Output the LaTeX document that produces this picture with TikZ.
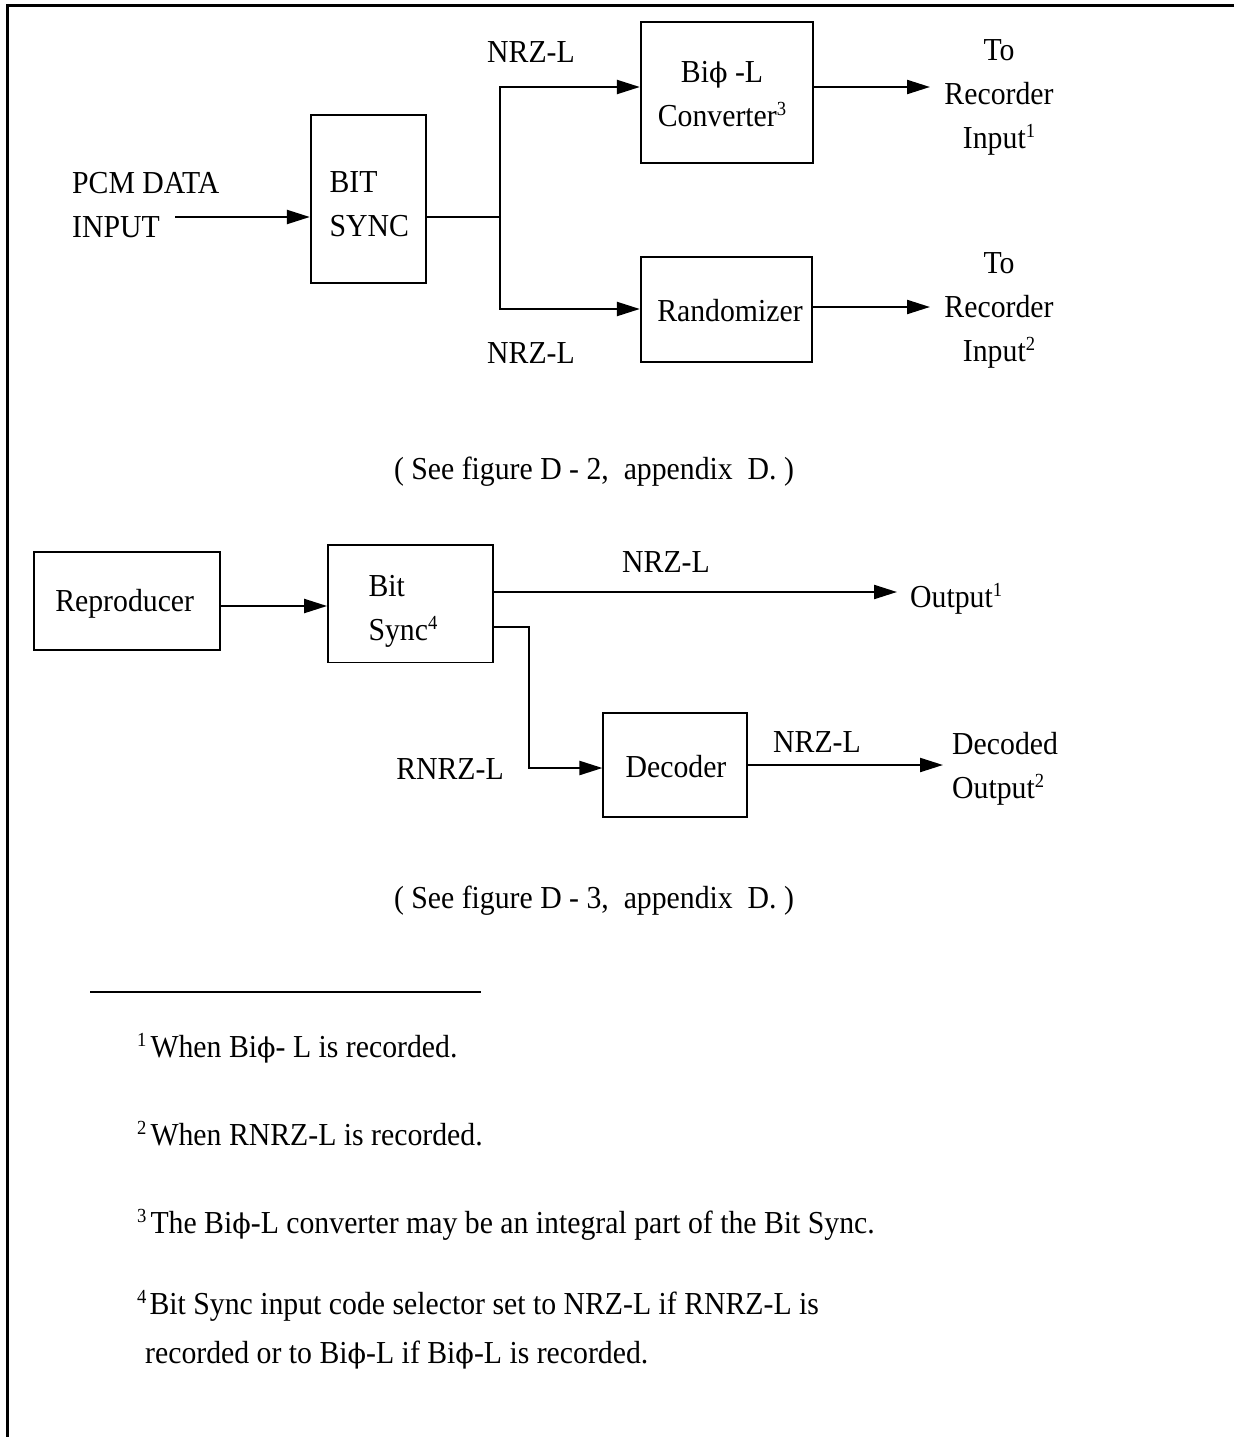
\documentclass[tikz,border=0pt]{standalone}
\usepackage{fontspec}
\setmainfont{Liberation Serif}[FakeStretch=0.93]
\newfontfamily\phifont{DejaVu Serif}[Scale=0.85]
\newcommand\phiglyph{{\phifont ϕ}}
\newcommand\supnum[1]{\raisebox{11pt}{\fontsize{20}{20}\selectfont #1}}
\usetikzlibrary{arrows.meta}
\begin{document}
\begin{tikzpicture}[x=1pt,y=-1pt,
  font=\fontsize{32}{44}\selectfont,
  box/.style={draw, line width=1.7pt, inner sep=0pt},
  lbl/.style={inner sep=0pt, anchor=base},
  lbll/.style={inner sep=0pt, anchor=base west},
  wire/.style={line width=2.2pt},
  arr/.style={wire, -{Triangle[length=23pt,width=14pt]}}]
\useasboundingbox (0,0) rectangle (1234,1437);
\draw[line width=3pt] (1234,6) -- (7,6) -- (7,1437);

% boxes
\node[box, minimum width=115pt, minimum height=168pt] (bs) at (368.2,199.2) {};
\node[box, minimum width=172pt, minimum height=141.6pt] (bp) at (726.7,92.5) {};
\node[box, minimum width=171.6pt, minimum height=105pt] (rnd) at (726.5,309.2) {};
\node[box, minimum width=186pt, minimum height=98.3pt] (rep) at (127,600.8) {};
\node[box, minimum width=164.7pt, minimum height=117.3pt] (bs2) at (410.3,603.7) {};
\node[box, minimum width=143.4pt, minimum height=104pt] (dec) at (675,765.3) {};

% box texts (base = last line's baseline)
\node[lbll, align=left] (bstext) at (329.3,236.7) {BIT\\SYNC};
\node[lbl, align=center] (bptext) at (722,126.7) {Bi\phiglyph{} -L\\Converter\supnum{3}};
\node[lbl] (rndtext) at (730,321.7) {Randomizer};
\node[lbl] (reptext) at (124.7,611.7) {Reproducer};
\node[lbll, align=left] (bs2text) at (368.3,640) {Bit\\Sync\supnum{4}};
\node[lbl] (dectext) at (676,777.3) {Decoder};

% labels
\node[lbll, align=left] (pcm) at (72,237) {PCM DATA\\INPUT};
\node[lbl] (nrz1) at (531,63) {NRZ-L};
\node[lbl] (nrz2) at (531,363) {NRZ-L};
\node[lbl, align=center] (out1) at (999,148) {To\\Recorder\\Input\supnum{1}};
\node[lbl, align=center] (out2) at (999,361) {To\\Recorder\\Input\supnum{2}};
\node[lbl] (cap1) at (594,479) {( See figure D - 2,\ \ appendix\ \ D. )};
\node[lbl] (nrz3) at (666,572) {NRZ-L};
\node[lbll] (out3) at (910,607) {Output\supnum{1}};
\node[lbl] (rnrz) at (450,779) {RNRZ-L};
\node[lbl] (nrz4) at (817,752) {NRZ-L};
\node[lbll, align=left] (out4) at (952,798) {Decoded\\Output\supnum{2}};
\node[lbl] (cap2) at (594,908) {( See figure D - 3,\ \ appendix\ \ D. )};

% connectors
\coordinate (pcmstart) at (175,217);
\draw[arr] (pcmstart) -- (pcmstart -| bs.west);
\coordinate (split) at (500,217);
\draw[wire] (split -| bs.east) -- (split);
\coordinate (jt) at (500,87);
\coordinate (jb) at (500,309);
\draw[arr] (split) -- (jt) -- (jt -| bp.west);
\draw[arr] (split) -- (jb) -- (jb -| rnd.west);
\coordinate (o1) at (930,87);
\draw[arr] (o1 -| bp.east) -- (o1);
\coordinate (o2) at (930,307);
\draw[arr] (o2 -| rnd.east) -- (o2);
\coordinate (r1) at (300,606);
\draw[arr] (r1 -| rep.east) -- (r1 -| bs2.west);
\coordinate (o3) at (897,592);
\draw[arr] (o3 -| bs2.east) -- (o3);
\coordinate (k1) at (529,627);
\coordinate (k2) at (529,768);
\draw[arr] (k1 -| bs2.east) -- (k1) -- (k2) -- (k2 -| dec.west);
\coordinate (o4) at (943,765);
\draw[arr] (o4 -| dec.east) -- (o4);

% footnotes
\draw[line width=2pt] (90,992) -- (481,992);
\node[lbll] (fn1) at (137,1057) {\supnum{1}\hspace{4pt}When Bi\phiglyph- L is recorded.};
\node[lbll] (fn2) at (137,1145) {\supnum{2}\hspace{4pt}When RNRZ-L is recorded.};
\node[lbll] (fn3) at (137,1233) {\supnum{3}\hspace{4pt}The Bi\phiglyph-L converter may be an integral part of the Bit Sync.};
\node[lbll, align=left, font=\fontsize{32}{49}\selectfont] (fn4) at (137,1363) {\supnum{4}\hspace{3pt}Bit Sync input code selector set to NRZ-L if RNRZ-L is\\\hspace*{8pt}recorded or to Bi\phiglyph-L if Bi\phiglyph-L is recorded.};
\end{tikzpicture}
\end{document}
